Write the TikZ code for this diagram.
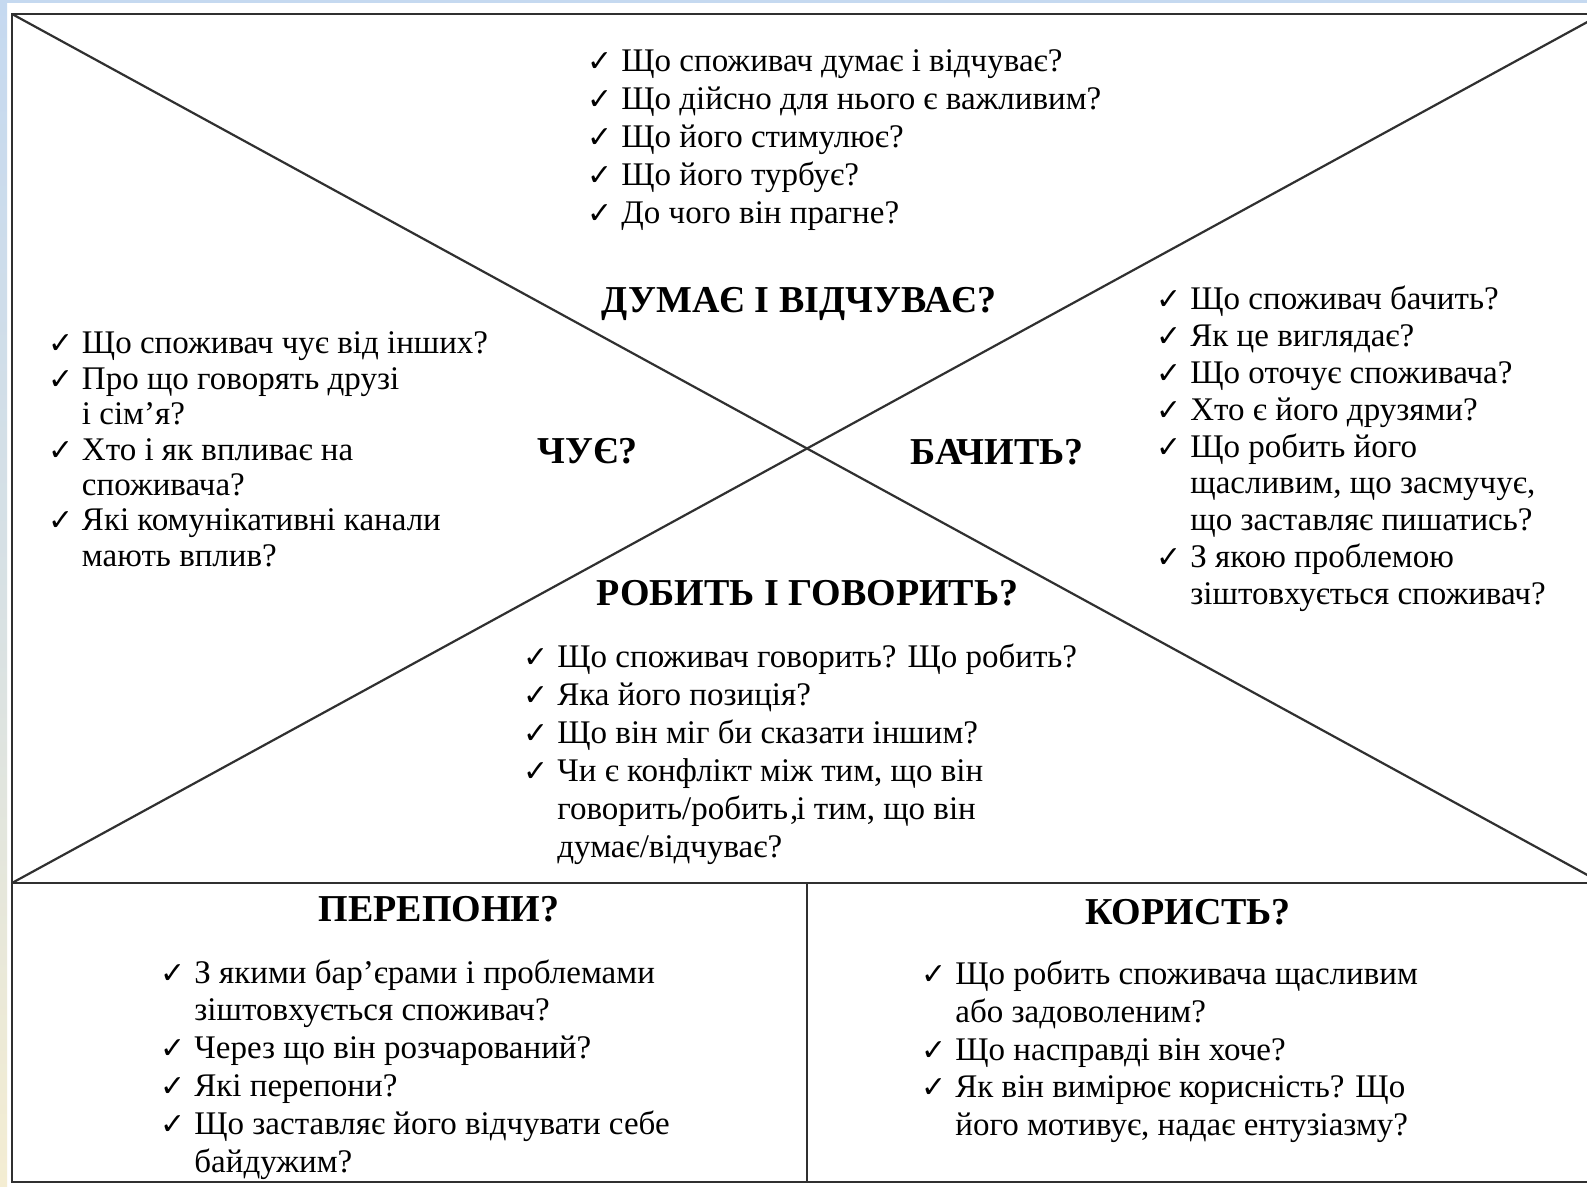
\documentclass[tikz,border=0pt]{standalone}
\usepackage{fontspec}
\setmainfont{Liberation Serif}
\newfontfamily\ckfont{DejaVu Sans}
\definecolor{stripblue}{HTML}{C5D9F0}
\definecolor{stripbeige}{HTML}{F4EDD2}
\definecolor{linegray}{HTML}{303030}
\newcommand\ckmark{\makebox[17pt][l]{\ckfont\fontsize{15pt}{15pt}\selectfont ✓}}
\newcommand\itm[1]{\hbox{\ckmark#1}}
\newcommand\cnt[1]{\hbox{\hspace*{17pt}#1}}
\newcommand\blk[2]{\vtop{\baselineskip=#1\lineskiplimit=-30pt\lineskip=0pt\relax #2}}
\tikzset{
  txt/.style={anchor=base west, inner sep=0pt, font=\fontsize{16.5pt}{19pt}\selectfont},
  head/.style={anchor=base, inner sep=0pt, font=\bfseries\fontsize{19pt}{22pt}\selectfont},
  frame/.style={draw=linegray, line width=1.3pt},
  diag/.style={draw=linegray, line width=1.1pt}
}
\begin{document}
\begin{tikzpicture}[x=0.5pt,y=-0.5pt]
\useasboundingbox (0,0) rectangle (1587,1187);
\clip (0,0) rectangle (1587,1187);
\fill[white] (0,0) rectangle (1587,1187);
\fill[stripblue] (0,0) rectangle (1587,3);
\shade[top color=stripblue, bottom color=stripbeige, middle color=stripblue!60!stripbeige] (0,0) rectangle (7,1187);
% frame coordinates
\coordinate (tl) at (12,14);
\coordinate (tr) at (1602,14);
\coordinate (ml) at (12,883);
\coordinate (mr) at (1602,883);
\coordinate (bl) at (12,1182);
\coordinate (br) at (1602,1182);
\coordinate (mt) at (807,883);
\coordinate (mb) at (807,1182);
\draw[diag] (tl) -- (mr);
\draw[diag] (ml) -- (tr);
\draw[frame] (tl) -- (tr) -- (br) -- (bl) -- cycle;
\draw[frame] (ml) -- (mr);
\draw[frame] (mt) -- (mb);
% headings
\node[head] (hthink) at (799,313) {ДУМАЄ І ВІДЧУВАЄ?};
\node[head] (hhear) at (587.5,463.5) {ЧУЄ?};
\node[head] (hsee) at (997,464.5) {БАЧИТЬ?};
\node[head] (hdo) at (807.7,605.5) {РОБИТЬ І ГОВОРИТЬ?};
\node[head] (hpain) at (439,921.5) {ПЕРЕПОНИ?};
\node[head] (hgain) at (1188,924.5) {КОРИСТЬ?};
% lists
\node[txt] (lthink) at (587,72) {\blk{19pt}{%
\itm{Що споживач думає і відчуває?}
\itm{Що дійсно для нього є важливим?}
\itm{Що його стимулює?}
\itm{Що його турбує?}
\itm{До чого він прагне?}}};
\node[txt] (lhear) at (47.6,354) {\blk{17.7pt}{%
\itm{Що споживач чує від інших?}
\itm{Про що говорять друзі}
\cnt{і сім’я?}
\itm{Хто і як впливає на}
\cnt{споживача?}
\itm{Які комунікативні канали}
\cnt{мають вплив?}}};
\node[txt] (lsee) at (1156,310) {\blk{18.4pt}{%
\itm{Що споживач бачить?}
\itm{Як це виглядає?}
\itm{Що оточує споживача?}
\itm{Хто є його друзями?}
\itm{Що робить його}
\cnt{щасливим, що засмучує,}
\cnt{що заставляє пишатись?}
\itm{З якою проблемою}
\cnt{зіштовхується споживач?}}};
\node[txt] (ldo) at (523,668) {\blk{18.95pt}{%
\itm{Що споживач говорить? Що робить?}
\itm{Яка його позиція?}
\itm{Що він міг би сказати іншим?}
\itm{Чи є конфлікт між тим, що він}
\cnt{говорить/робить\rlap{\kern1pt,} і тим, що він}
\cnt{думає/відчуває?}}};
\node[txt] (lpain) at (160,983) {\blk{18.95pt}{%
\itm{З якими бар’єрами і проблемами}
\cnt{зіштовхується споживач?}
\itm{Через що він розчарований?}
\itm{Які перепони?}
\itm{Що заставляє його відчувати себе}
\cnt{байдужим?}}};
\node[txt] (lgain) at (921,984) {\blk{19pt}{%
\itm{Що робить споживача щасливим}
\cnt{або задоволеним?}
\itm{Що насправді він хоче?}
\itm{Як він вимірює корисність? Що}
\cnt{його мотивує, надає ентузіазму?}}};
\end{tikzpicture}
\end{document}
